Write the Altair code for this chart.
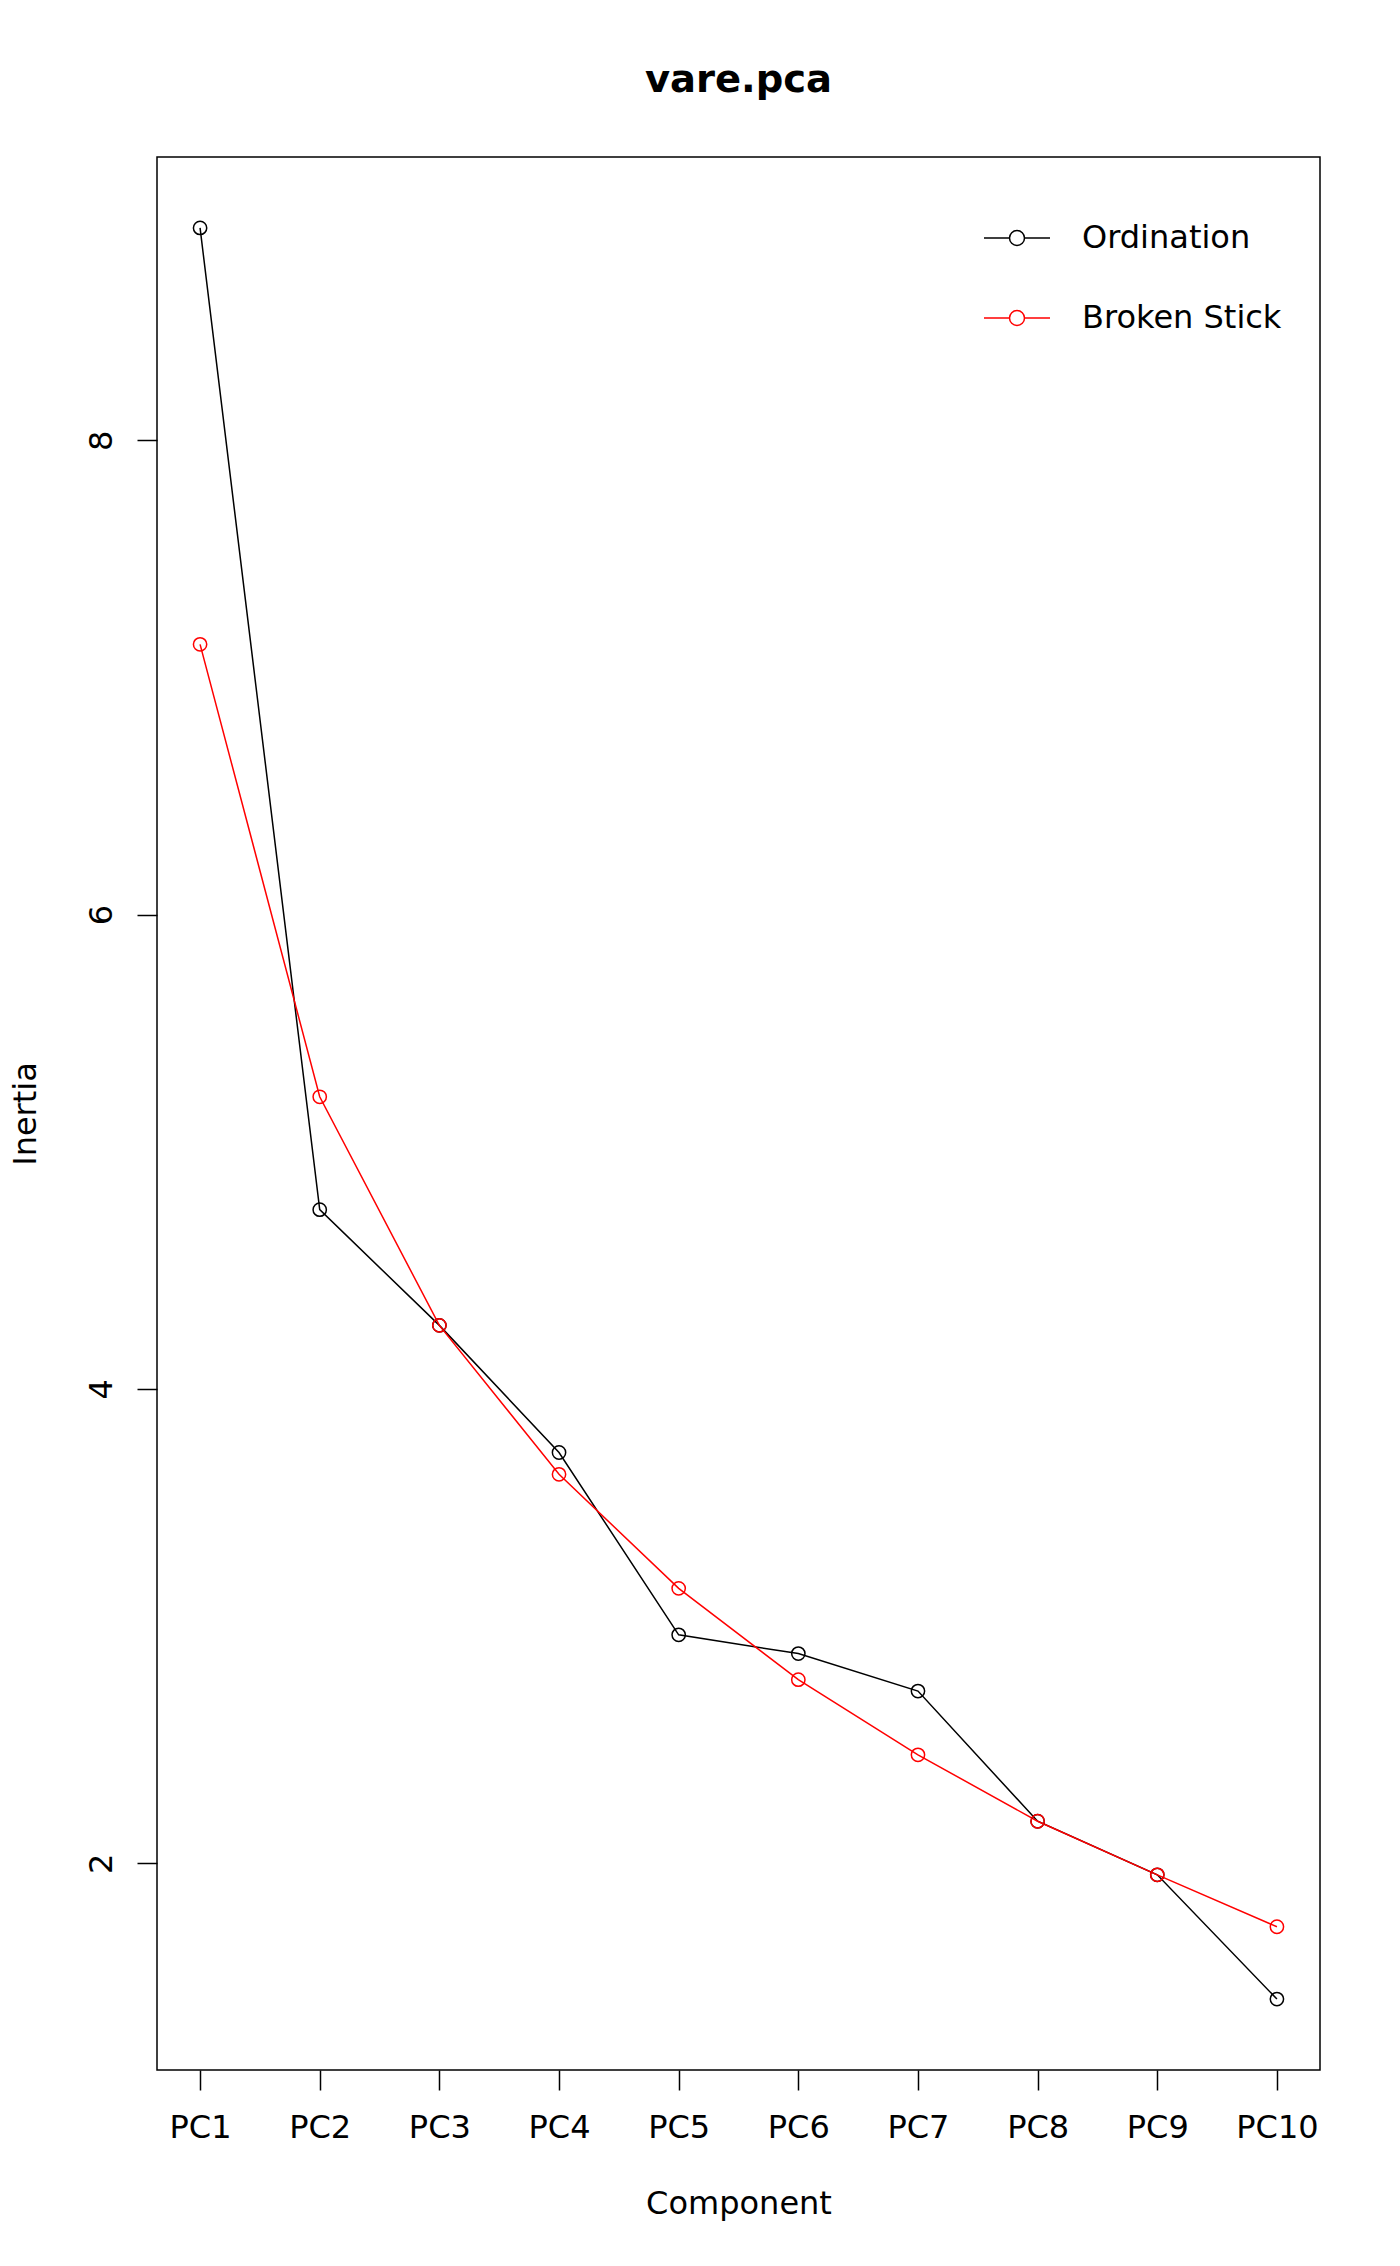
import altair as alt
import pandas as pd

# ---- data ----
components = ["PC1", "PC2", "PC3", "PC4", "PC5", "PC6", "PC7", "PC8", "PC9", "PC10"]
ordination = [8.896, 4.756, 4.268, 3.732, 2.963, 2.884, 2.726, 2.177, 1.951, 1.427]
broken_stick = [7.140, 5.232, 4.268, 3.640, 3.159, 2.774, 2.457, 2.177, 1.951, 1.732]
series_names = ["Ordination", "Broken Stick"]
series_colors = ["#000000", "#ff0000"]
y_ticks = [2, 4, 6, 8]

rows = []
for name, vals in zip(series_names, [ordination, broken_stick]):
    for i, (c, v) in enumerate(zip(components, vals)):
        rows.append({"component": c, "value": v, "series": name, "order": i})
df = pd.DataFrame(rows)

FONT = "DejaVu Sans"
W, H = 1163, 1913
FS = 32

legend_path = ("M-1,0L-0.227,0M0.227,0L1,0"
               "M0.227,0A0.227,0.227,0,1,1,-0.227,0A0.227,0.227,0,1,1,0.227,0")

color = alt.Color(
    "series:N",
    scale=alt.Scale(domain=series_names, range=series_colors),
    legend=alt.Legend(
        title=None, orient="none", legendX=826, legendY=47,
        symbolType=legend_path, symbolSize=4356, symbolStrokeWidth=1.5,
        symbolFillColor="transparent", symbolOpacity=1, labelFont=FONT, labelFontSize=FS,
        labelColor="black", labelOffset=31, labelLimit=0, rowPadding=30, padding=0,
    ),
)

x = alt.X(
    "component:N",
    sort=components,
    scale=alt.Scale(type="point", padding=0.36),
    axis=alt.Axis(
        title="Component", labelAngle=0, labelBaseline="alphabetic",
        labelPadding=47, titleX=W / 2, titleY=143, titleBaseline="alphabetic",
        titleAlign="center",
    ),
)
y = alt.Y(
    "value:Q",
    scale=alt.Scale(domain=[1.128, 9.195], nice=False, zero=False),
    axis=alt.Axis(
        title="Inertia", values=y_ticks, labelAngle=270, labelAlign="center",
        labelBaseline="alphabetic", labelPadding=26, labelOverlap=False,
        titleX=-122, titleY=H / 2, titleAngle=270, titleBaseline="alphabetic",
        titleAlign="center",
    ),
)

base = alt.Chart(df)
lines = base.mark_line(strokeWidth=1.5, opacity=1).encode(
    x=x, y=y, color=color, order="order:Q"
)
points = base.mark_point(shape="circle", filled=False, size=177, strokeWidth=1.5,
                         opacity=1).encode(x=x, y=y, color=color)

chart = (
    alt.layer(lines, points)
    .properties(
        width=W, height=H,
        title=alt.Title("vare.pca", font=FONT, fontSize=38.5, fontWeight="bold",
                        color="black", baseline="alphabetic", offset=27, anchor="middle"),
        autosize=alt.AutoSizeParams(type="none"),
        padding={"left": 149, "top": 149, "right": 70, "bottom": 180},
        background="white",
    )
    .configure_view(stroke="black", strokeWidth=1.5)
    .configure_axis(
        domain=False, grid=False, tickColor="black", tickWidth=1.5, tickSize=20,
        labelFont=FONT, labelFontSize=FS, labelColor="black",
        titleFont=FONT, titleFontSize=FS, titleFontWeight="normal", titleColor="black",
    )
)

chart.save("out.html", embed_options={"renderer": "svg", "actions": False})
